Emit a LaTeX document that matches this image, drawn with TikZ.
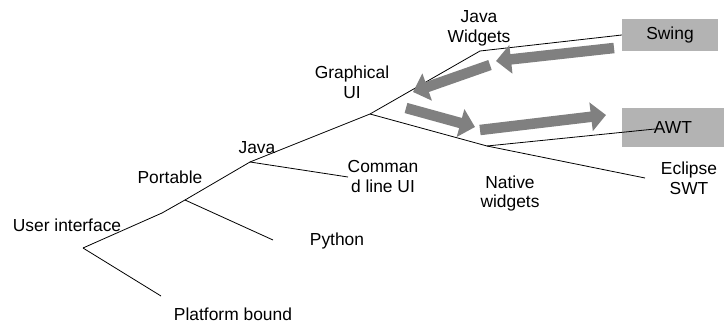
\documentclass[tikz,border=0pt]{standalone}
\usepackage{fontspec}
\setmainfont{Liberation Sans}
\usetikzlibrary{arrows.meta}

\definecolor{boxgray}{RGB}{179,179,179}
\definecolor{arrowgray}{RGB}{128,128,128}

\tikzset{
  lbl/.style={font=\fontsize{17.4}{20}\selectfont, inner sep=0pt, align=center},
  branch/.style={draw=black, line width=0.8pt},
  bigarrow/.style={draw=arrowgray, line width=10.5pt, -{Triangle[length=15pt,width=28pt]}}
}

\begin{document}
\begin{tikzpicture}[x=1pt,y=-1pt]
  \useasboundingbox (0,0) rectangle (724,324);

  % grey boxes
  \begin{scope}[every node/.style={lbl, fill=boxgray}]
    \node[minimum width=96pt, minimum height=32pt] (swing) at (670,35) {Swing};
    \node[minimum width=102pt, minimum height=39pt] (awt) at (673,127.5) {AWT};
  \end{scope}

  % tree points
  \coordinate (ui)     at (83,248);
  \coordinate (bend)   at (162,213);
  \coordinate (port)   at (185,200);
  \coordinate (java)   at (250,162);
  \coordinate (gui)    at (370,114);
  \coordinate (jw)     at (480,51);
  \coordinate (nat)    at (487,146);
  \coordinate (pbend)  at (161,296);
  \coordinate (pyend)  at (273,240);
  \coordinate (cmdend) at (348,177);
  \coordinate (awtend) at (655,129);
  \coordinate (eclend) at (645,178);

  \begin{scope}[every edge/.style={branch}]
    \path (ui)   edge (bend);
    \path (bend) edge (port);
    \path (port) edge (java);
    \path (java) edge (gui);
    \path (gui)  edge (jw);
    \path (jw)   edge (swing.west);
    \path (ui)   edge (pbend);
    \path (port) edge (pyend);
    \path (java) edge (cmdend);
    \path (gui)  edge (nat);
    \path (nat)  edge (awtend);
    \path (nat)  edge (eclend);
  \end{scope}

  % labels
  \begin{scope}[every node/.style={lbl}]
    \node (uil)   at (67,225)    {User interface};
    \node (portl) at (170,177.5) {Portable};
    \node (javal) at (257,147.5) {Java};
    \node (pyl)   at (337,240.5) {Python};
    \node (pbl)   at (233,314.5) {Platform bound};
    \node (cmdl)  at (383,177)   {Comman\\d line UI};
    \node (guil)  at (352,82.5)  {Graphical\\UI};
    \node (jwl)   at (479,28)    {Java\\Widgets};
    \node (natl)  at (510,193.5) {Native\\widgets};
    \node (ecll)  at (689,178)   {Eclipse\\SWT};
  \end{scope}

  % thick arrows
  \coordinate (a1s) at (614,48);
  \coordinate (a1e) at (496,61);
  \coordinate (a2s) at (490,65);
  \coordinate (a2e) at (413,92);
  \coordinate (a3s) at (406,108);
  \coordinate (a3e) at (475,127);
  \coordinate (a4s) at (480,130);
  \coordinate (a4e) at (606,115);

  \draw[bigarrow] (a1s) -- (a1e);
  \draw[bigarrow] (a2s) -- (a2e);
  \draw[bigarrow] (a3s) -- (a3e);
  \draw[bigarrow] (a4s) -- (a4e);

\end{tikzpicture}
\end{document}
